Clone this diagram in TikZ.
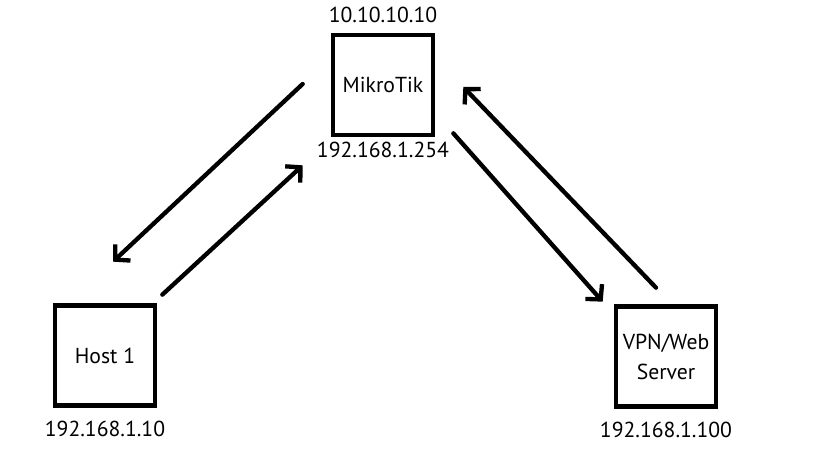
\documentclass[tikz,border=0pt]{standalone}
\usepackage{fontspec}
\setmainfont{PT Sans}
\usetikzlibrary{arrows.meta,positioning,calc}

\begin{document}
\begin{tikzpicture}[x=0.03cm,y=-0.03cm,
  netbox/.style={draw,line width=0.14cm,minimum size=3cm,inner sep=0pt,align=center,
    font=\fontsize{18.5pt}{25.5pt}\selectfont},
  iptag/.style={inner sep=0pt,font=\fontsize{18.5pt}{22pt}\selectfont},
  flow/.style={line width=0.13cm,line cap=round,-{Straight Barb[length=9pt,width=19pt]}}
]
  \useasboundingbox (0,0) rectangle (818,460);
  % Devices
  \node[netbox] (router) at (383,85) {MikroTik};
  \node[netbox] (host) at (105,355.5) {Host 1};
  \node[netbox] (server) at (666,356.5) {VPN/Web\\Server};
  % Addresses
  \node[iptag,above=8pt of router] (routerwan) {10.10.10.10};
  \node[iptag,below=4pt of router] (routerlan) {192.168.1.254};
  \node[iptag,below=11.5pt of host] (hostip) {192.168.1.10};
  \node[iptag,below=11.5pt of server] (serverip) {192.168.1.100};
  % Traffic between host and router
  \draw[flow] ($(host.north east)+(5,-8.5)$) -- ($(router.south west)+(-28,28)$);
  \draw[flow] ($(router.west)+(-28,-1)$) -- ($(host.north)+(8,-41.5)$);
  % Traffic between router and server
  \draw[flow] ($(router.south east)+(18,-4)$) -- ($(server.north west)+(-11,-2.5)$);
  \draw[flow] ($(server.north)+(-10,-16.5)$) -- ($(router.east)+(28,2)$);
\end{tikzpicture}
\end{document}
